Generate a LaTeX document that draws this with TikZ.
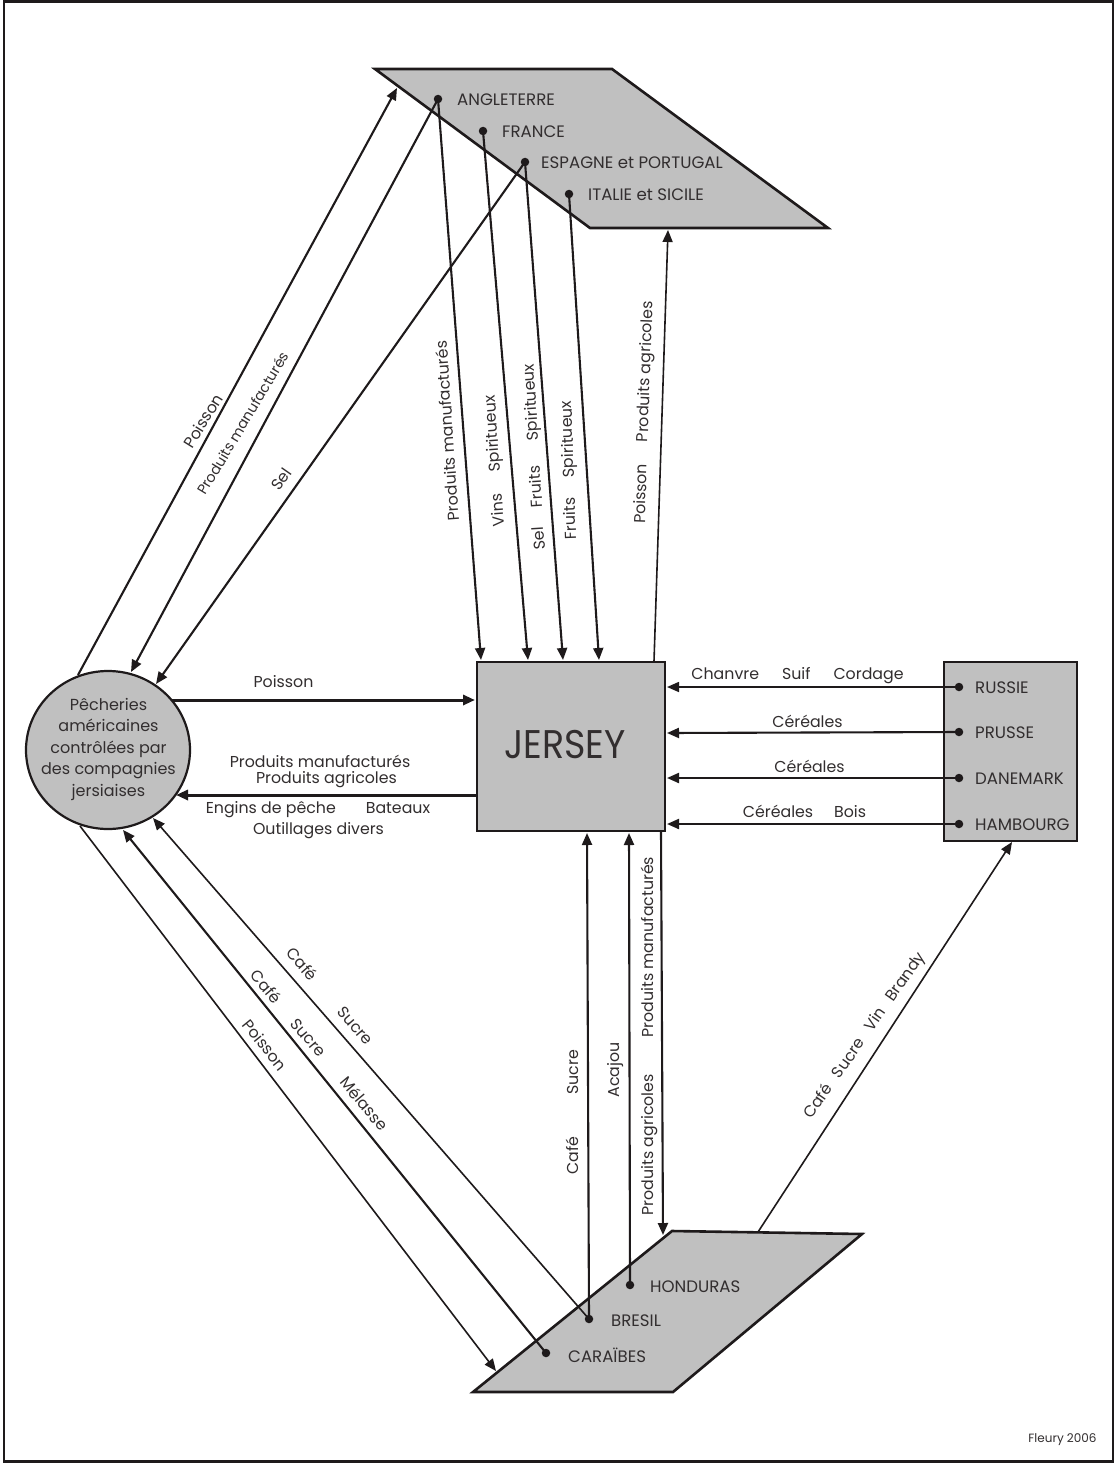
\documentclass[tikz,border=0pt]{standalone}
\usepackage{fontspec}
\setmainfont{Poppins}
\usetikzlibrary{arrows.meta,shapes.geometric}
\definecolor{shade}{RGB}{192,192,192}
\definecolor{ink}{RGB}{30,26,27}
\definecolor{txt}{RGB}{50,46,47}
\tikzset{
 region/.style={draw=ink,fill=shade,line width=2.6pt,line join=miter},
 boxed/.style={region,line width=2.8pt,inner sep=0pt},
 lbl/.style={text=txt,font=\fontsize{15.8}{18}\selectfont,inner sep=0pt,align=center},
 place/.style={text=txt,font=\fontsize{16.6}{19}\selectfont,inner sep=0pt,anchor=west},
 pin/.style={circle,fill=ink,inner sep=0pt,minimum size=8.5pt},
 heavy/.style={draw=ink,line width=3pt,-{Triangle[length=12pt,width=10pt]}},
 mid/.style={draw=ink,line width=2.1pt,-{Triangle[length=12pt,width=10pt]}},
 thin/.style={draw=ink,line width=1.6pt,-{Triangle[length=12pt,width=10pt]}}
}
\newcommand{\gap}[1]{\hspace{#1pt}}
\begin{document}
\begin{tikzpicture}[x=1pt,y=-1pt]
\useasboundingbox (0,0) rectangle (1115,1463);
\fill[white] (0,0) rectangle (1115,1463);
\draw[draw=ink,line width=2.6pt] (4,1.5) rectangle (1113,1461.5);
% shapes
\path[region] (375,69) -- (612,69) -- (828,228) -- (590,228) -- cycle;
\path[region] (672,1231) -- (862,1234) -- (673,1392) -- (473,1392) -- cycle;
\node[boxed,minimum width=188pt,minimum height=169pt] (jersey) at (571,746.5) {};
\node[boxed,minimum width=133pt,minimum height=179pt] (east) at (1010.5,751.5) {};
\draw[region,line width=2.2pt] (108,750) ellipse [x radius=82,y radius=79];
\node[inner sep=0pt,text=txt,font=\fontsize{16}{21.5}\selectfont,align=center] (peche) at (108.5,749)
  {Pêcheries\\américaines\\contrôlées par\\des compagnies\\jersiaises};
\node[text=txt,font=\fontsize{40}{40}\selectfont,inner sep=0pt,xscale=.91] (jt) at (565,745) {JERSEY};
% pins
\node[pin] (ang) at (438,99) {};
\node[pin] (fra) at (483,131) {};
\node[pin] (esp) at (525,162) {};
\node[pin] (ita) at (569,194) {};
\node[pin] (hon) at (630,1285) {};
\node[pin] (bre) at (589,1319) {};
\node[pin] (car) at (546,1353) {};
\node[pin] (rus) at (959,687) {};
\node[pin] (pru) at (959,732) {};
\node[pin] (dan) at (959,778) {};
\node[pin] (ham) at (959,824) {};
% place labels
\node[place] (tang) at (457,100) {ANGLETERRE};
\node[place] (tfra) at (502,132) {FRANCE};
\node[place] (tesp) at (541,163) {ESPAGNE et PORTUGAL};
\node[place] (tita) at (588,195) {ITALIE et SICILE};
\node[place] (thon) at (650,1287) {HONDURAS};
\node[place] (tbre) at (611,1321) {BRESIL};
\node[place] (tcar) at (568,1355) {CARAÏBES};
\node[place] (trus) at (975,688) {RUSSIE};
\node[place] (tpru) at (975,733) {PRUSSE};
\node[place] (tdan) at (975,779) {DANEMARK};
\node[place] (tham) at (975,825) {HAMBOURG};
% connector ends
\coordinate (a1) at (78,675);   \coordinate (a2) at (397,88);
\coordinate (b2) at (131,672);  \coordinate (c2) at (156,684);
\coordinate (j1) at (481,660);  \coordinate (j2) at (528,660);
\coordinate (j3) at (563,660);  \coordinate (j4) at (599,660);
\coordinate (d1) at (654,661);  \coordinate (d2) at (668,230);
\coordinate (e1) at (172,700);  \coordinate (e2) at (475,700);
\coordinate (f1) at (477,795);  \coordinate (f2) at (176,795);
\coordinate (r) at (667,687);   \coordinate (p) at (667,733);
\coordinate (n) at (667,778);   \coordinate (h) at (667,824);
\coordinate (u1) at (587,833);  \coordinate (u2) at (629,833);
\coordinate (v1) at (661,832);  \coordinate (v2) at (663,1235);
\coordinate (w1) at (758,1232); \coordinate (w2) at (1012,842);
\coordinate (x2) at (153,818);  \coordinate (y2) at (123,830);
\coordinate (z1) at (80,826);   \coordinate (z2) at (496,1371);
% connectors
\path[mid] (a1) -- (a2);
\path[mid] (ang.center) -- (b2);
\path[mid] (esp.center) -- (c2);
\path[mid] (ang.center) -- (j1);
\path[mid] (fra.center) -- (j2);
\path[mid] (esp.center) -- (j3);
\path[mid] (ita.center) -- (j4);
\path[thin] (d1) -- (d2);
\path[heavy] (e1) -- (e2);
\path[heavy] (f1) -- (f2);
\path[thin] (rus.center) -- (r);
\path[mid] (pru.center) -- (p);
\path[mid] (dan.center) -- (n);
\path[mid] (ham.center) -- (h);
\path[mid] (bre.center) -- (u1);
\path[mid] (hon.center) -- (u2);
\path[mid] (v1) -- (v2);
\path[thin] (w1) -- (w2);
\path[thin] (bre.center) -- (x2);
\path[mid] (car.center) -- (y2);
\path[thin] (z1) -- (z2);
% horizontal labels
\node[lbl] (l1) at (797.5,676) {Chanvre\gap{23}Suif\gap{23}Cordage};
\node[lbl] (l2) at (807.5,721.5) {Céréales};
\node[lbl] (l3) at (809.5,766.5) {Céréales};
\node[lbl] (l4) at (804.5,811.5) {Céréales\gap{21}Bois};
\node[lbl] (l5) at (283.5,681.5) {Poisson};
\node[lbl] (l6) at (320,761.5) {Produits manufacturés};
\node[lbl] (l7) at (326.5,779.5) {Produits agricoles};
\node[lbl] (l8) at (318,809.5) {Engins de pêche\gap{30}Bateaux};
\node[lbl] (l9) at (318.5,830.5) {Outillages divers};
% slanted labels
\node[lbl,rotate=58] (s1) at (203,421) {Poisson};
\node[lbl,rotate=59,font=\fontsize{14.3}{17}\selectfont] (s2) at (243,423) {Produits manufacturés};
\node[lbl,rotate=55] (s3) at (281,479) {Sel};
\node[lbl,rotate=94] (s4) at (447,431) {Produits manufacturés};
\node[lbl,rotate=94] (s5) at (495.5,461) {Vins\gap{22}Spiritueux};
\node[lbl,rotate=93.5] (s6) at (535.5,457) {Sel\gap{20}Fruits\gap{25}Spiritueux};
\node[lbl,rotate=92] (s7) at (570,470) {Fruits\gap{20}Spiritueux};
\node[lbl,rotate=88] (s8) at (645,412.5) {Poisson\gap{22}Produits agricoles};
\node[lbl,rotate=-49] (s9) at (330,996) {Café\gap{40}Sucre};
\node[lbl,rotate=-50] (s10) at (319.5,1050) {Café\gap{25}Sucre\gap{32}Mélasse};
\node[lbl,rotate=-51] (s11) at (265,1045) {Poisson};
\node[lbl,rotate=90] (s12) at (572,1112) {Café\gap{42}Sucre};
\node[lbl,rotate=90] (s13) at (616,1070) {Acajou};
\node[lbl,rotate=90] (s14) at (649,1036) {Produits agricoles\gap{37}Produits manufacturés};
\node[lbl,rotate=55] (s15) at (865,1036) {Café\gap{12}Sucre\gap{12}Vin\gap{12}Brandy};
\node[text=txt,font=\fontsize{12}{14}\selectfont,inner sep=0pt] (credit) at (1062.5,1440) {Fleury 2006};
\end{tikzpicture}
\end{document}
